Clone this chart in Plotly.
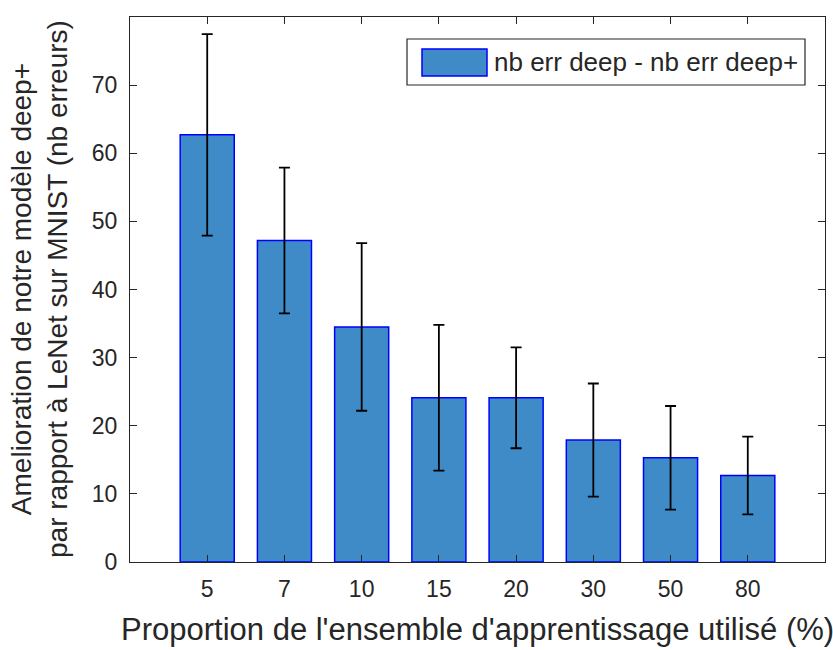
import plotly.graph_objects as go

categories = ["5", "7", "10", "15", "20", "30", "50", "80"]
improvement = [62.7, 47.2, 34.5, 24.1, 24.1, 17.9, 15.3, 12.7]
error = [14.8, 10.7, 12.3, 10.7, 7.4, 8.3, 7.6, 5.7]
series_name = "nb err deep - nb err deep+"
y_ticks = [0, 10, 20, 30, 40, 50, 60, 70]
x_title = "Proportion de l'ensemble d'apprentissage utilisé (%)"
y_title = "Amelioration de notre modèle deep+<br>par rapport à LeNet sur MNIST (nb erreurs)"

positions = list(range(1, len(categories) + 1))

FONT = "Liberation Sans, Arial, Helvetica, sans-serif"
AX = "#262626"
BAR_FILL = "rgb(63,139,200)"
BAR_EDGE = "rgb(0,0,255)"

# plot area in pixels: x 130..825, y 17..562
L, R, T, B = 130, 825, 17, 562
PW, PH = R - L, B - T


def px(x):
    return (x - L) / PW


def py(y):
    return (B - y) / PH


fig = go.Figure()
fig.add_trace(go.Bar(
    x=positions, y=improvement, width=0.7,
    name=series_name,
    marker=dict(color=BAR_FILL, line=dict(color=BAR_EDGE, width=1.5)),
    error_y=dict(type="data", array=error, visible=True, color="black", thickness=1.8, width=5.5),
    showlegend=False,
))

# legend box (drawn as layout decoration)
fig.add_shape(type="rect", xref="paper", yref="paper",
              x0=px(407), x1=px(805), y0=py(85), y1=py(39),
              line=dict(color=AX, width=1.2), fillcolor="white", layer="above")
fig.add_shape(type="rect", xref="paper", yref="paper",
              x0=px(422), x1=px(487), y0=py(76), y1=py(49),
              line=dict(color=BAR_EDGE, width=1.5), fillcolor=BAR_FILL, layer="above")
fig.add_annotation(text=series_name, xref="paper", yref="paper",
                   x=px(492), y=py(62), xanchor="left", yanchor="middle",
                   showarrow=False, font=dict(size=26, color=AX))

# axis titles
fig.add_annotation(text=x_title, xref="paper", yref="paper",
                   x=px(477), y=py(629), xanchor="center", yanchor="middle",
                   showarrow=False, font=dict(size=31, color=AX))
fig.add_annotation(text=y_title, xref="paper", yref="paper",
                   x=px(39), y=py(289), xanchor="center", yanchor="middle",
                   textangle=-90, showarrow=False, font=dict(size=28, color=AX))

fig.update_layout(
    width=833, height=650,
    margin=dict(l=L, r=833 - R, t=T, b=650 - B),
    paper_bgcolor="white", plot_bgcolor="white",
    font=dict(family=FONT, size=23, color=AX),
    showlegend=False,
    xaxis=dict(
        range=[0, 9], tickvals=positions, ticktext=categories,
        showline=True, linecolor=AX, linewidth=1.2, mirror="allticks",
        ticks="inside", ticklen=7, tickcolor=AX, tickwidth=1.2,
        showgrid=False, zeroline=False, ticklabelstandoff=6,
        tickfont=dict(size=23),
    ),
    yaxis=dict(
        range=[0, 80], tickvals=y_ticks,
        showline=True, linecolor=AX, linewidth=1.2, mirror="allticks",
        ticks="inside", ticklen=7, tickcolor=AX, tickwidth=1.2,
        showgrid=False, zeroline=False, ticklabelstandoff=7,
        tickfont=dict(size=23),
    ),
)

fig.write_html("out.html")
